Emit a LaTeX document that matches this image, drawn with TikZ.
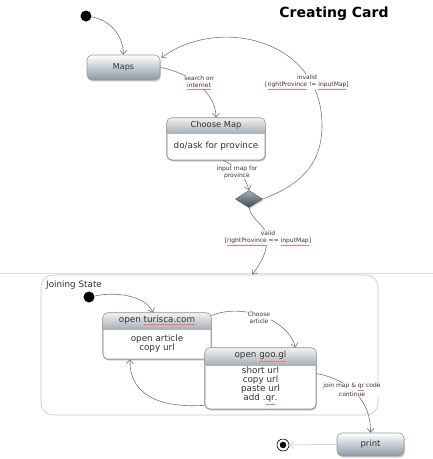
\documentclass[tikz,border=0pt]{standalone}
\usepackage{fontspec}
\setmainfont{DejaVu Sans}
\usetikzlibrary{shapes.geometric,shadows,arrows.meta,calc}
\definecolor{boxbot}{HTML}{8C98A5}
\definecolor{hdtop}{HTML}{F2F3F4}
\definecolor{hdbot}{HTML}{A9B1B9}
\definecolor{boxline}{HTML}{9A9A9A}
\definecolor{linec}{HTML}{777777}
\definecolor{dtop}{HTML}{A7B0B9}
\definecolor{dbot}{HTML}{3E4852}
\definecolor{txt}{HTML}{333333}
\newcommand{\sqw}[1]{{\color{red!55}\underline{\color{txt}#1}}}
\newcommand{\mkheader}[2]{%
  \begin{scope}
    \clip[rounded corners=5pt] (#1.north west) rectangle (#1.south east);
    \shade[top color=hdtop,bottom color=hdbot] (#1.north west) rectangle ($(#1.north east)+(0,#2)$);
  \end{scope}
  \draw[draw=gray!60] ($(#1.north west)+(0,#2)$) -- ($(#1.north east)+(0,#2)$);
  \draw[draw=boxline,line width=0.6pt,rounded corners=5pt] (#1.north west) rectangle (#1.south east);}
\tikzset{
  shd/.style={drop shadow={opacity=0.35,shadow xshift=1pt,shadow yshift=-1.6pt}},
  gradbox/.style={draw=boxline,line width=0.6pt,rounded corners=5pt,top color=white,bottom color=boxbot,shd,inner sep=0pt,text=txt,font=\fontsize{8}{9}\selectfont},
  splitbox/.style={draw=boxline,line width=0.6pt,rounded corners=5pt,fill=white,shd,inner sep=0pt},
  boxtxt/.style={font=\fontsize{8.8}{9}\selectfont,align=center,inner sep=0pt,text=txt},
  elbl/.style={font=\fontsize{6}{7}\selectfont,align=center,fill=white,inner sep=0.6pt,text=txt},
  conn/.style={draw=linec,line width=0.6pt,-{Straight Barb[length=4pt,width=7pt]}},
  initdot/.style={circle,fill=black,inner sep=0pt,minimum size=11pt},
}
\begin{document}
\begin{tikzpicture}[x=1pt,y=-1pt]
\useasboundingbox (0,0) rectangle (433,459);
% title
\node[font=\bfseries\fontsize{14}{14}\selectfont] (title) at (334,14) {Creating Card};
% top part
\node[initdot] (init1) at (86,16) {};
\node[gradbox,minimum width=73pt,minimum height=25pt] (maps) at (123.5,67.5) {Maps};
\node[splitbox,minimum width=98pt,minimum height=42pt] (choose) at (216,139) {};
\mkheader{choose}{15}
\node[font=\fontsize{8.3}{9}\selectfont,inner sep=0pt,text=txt] (chooseH) at ($(choose.north)+(0,7.5)$) {Choose Map};
\node[boxtxt] (chooseB) at (216,146) {do/ask for province};
\node[diamond,draw=gray!60!black,line width=0.4pt,top color=dtop,bottom color=dbot,minimum width=27pt,minimum height=17pt,inner sep=0pt,shd] (dec) at (249,199) {};
% connectors top
\draw[conn] (init1) .. controls (110,20) and (123,35) .. (maps.north);
\draw[conn] (maps.east) .. controls (188,72) and (216,92) .. (choose.north);
\node[elbl] (lsearch) at (199,83) {search on\\\sqw{internet}};
\draw[conn] (dec.east) .. controls (300,185) and (322,165) .. (322,125) .. controls (322,40) and (220,15) .. ($(maps.north east)+(1,3)$);
\node[elbl] (linvalid) at (307,82) {invalid\\{[}\sqw{rightProvince} != \sqw{inputMap}{]}};
\draw[conn] ([xshift=7pt]choose.south) .. controls (240,168) and (246,180) .. (dec.north);
\node[elbl] (linput) at (237,172) {input map for\\province};
% separator
\draw[gray!25,line width=0.8pt] (0,273) -- (433,273);
% joining state
\node[draw=gray!45,line width=0.6pt,rounded corners=12pt,minimum width=337pt,minimum height=140pt,inner sep=0pt] (jstate) at (209.5,345) {};
\node[anchor=west,font=\fontsize{8.8}{9}\selectfont,inner sep=0pt,text=txt] (jlabel) at (46,285) {Joining State};
\draw[conn] (dec.south) .. controls (252,222) and (268,225) .. (267,240) .. controls (266,255) and (261,262) .. ([xshift=43pt]jstate.north);
\node[elbl] (lvalid) at (268,238) {valid\\{[}\sqw{rightProvince} == \sqw{inputMap}{]}};
\node[initdot] (init2) at (89,297) {};
\node[splitbox,minimum width=108pt,minimum height=46pt] (turisca) at (157,336) {};
\mkheader{turisca}{16}
\node[boxtxt] (turiscaH) at ($(turisca.north)+(0,8)$) {open \sqw{turisca.com}};
\node[boxtxt] (turiscaB) at (157,344) {open article\\copy url};
\node[splitbox,minimum width=111pt,minimum height=61pt] (googl) at (260.5,378.5) {};
\mkheader{googl}{17}
\node[boxtxt] (googlH) at ($(googl.north)+(0,8.5)$) {open \sqw{goo.gl}};
\node[boxtxt] (googlB) at (260.5,386) {short url\\copy url\\paste url\\add .\sqw{qr}.};
\node[gradbox,font=\fontsize{8.5}{9}\selectfont,minimum width=67pt,minimum height=23pt] (print) at (370.5,444.5) {print};
\node[circle,draw=black,line width=0.6pt,fill=white,minimum size=12pt,inner sep=0pt] (final) at (283,445) {};
\node[circle,fill=black,minimum size=6.5pt,inner sep=0pt] (finaldot) at (final) {};
% connectors bottom
\draw[conn] (init2) .. controls (120,291) and (146,297) .. ([xshift=-4pt]turisca.north);
\draw[conn] ([yshift=-3pt]turisca.north east) .. controls (240,303) and (288,318) .. ([xshift=35pt]googl.north);
\node[elbl] (lchoose) at (259,318) {Choose\\article};
\draw[conn] ([yshift=4pt]googl.south west) .. controls (150,409) and (129,388) .. ([xshift=-27pt]turisca.south);
\draw[conn] ([yshift=5pt]googl.east) .. controls (342,378) and (371,395) .. (print.north);
\node[elbl] (ljoin) at (352,390) {join map \& \sqw{qr} code\\continue};
\draw[draw=gray!50,line width=0.5pt,-{Straight Barb[length=4pt,width=7pt]}] (print.west) -- (final);
\end{tikzpicture}
\end{document}
